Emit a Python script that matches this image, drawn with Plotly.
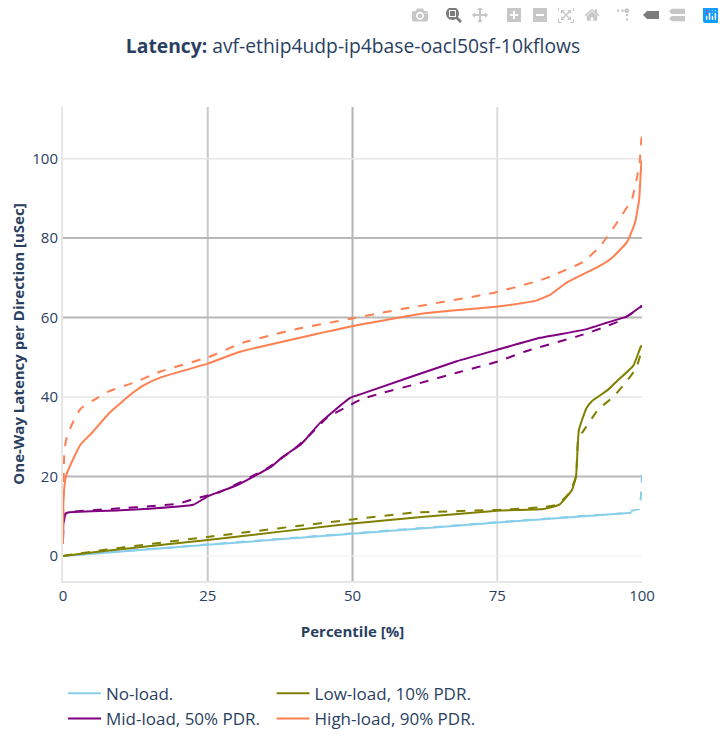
import plotly.graph_objects as go

no_x = [0, 25, 50, 75, 90, 98.2]
no_y = [0, 2.8, 5.6, 8.4, 10, 10.9]
no_dx = [2, 25, 50, 75, 90, 97, 97.8, 98.2, 99.5, 99.7, 100]
no_dy = [0.22, 2.9, 5.7, 8.5, 10.1, 10.8, 11.3, 11.4, 11.8, 13, 20.5]

low_x = [0, 5, 10, 25, 50, 75, 83, 85.8, 87.9, 88.6, 89.1, 90.4, 91.3, 94.1, 95.6, 98.5, 99.8, 100]
low_y = [0, 0.9, 1.7, 4.0, 8.2, 11.4, 11.8, 13, 16.6, 20, 31.7, 37.2, 38.9, 41.8, 43.9, 47.9, 52.7, 53]
low_dx = [0, 5, 10, 25, 50, 60.5, 75, 83, 85.5, 87.5, 88.6, 89.0, 89.8, 92.4, 95, 97.1, 99, 100]
low_dy = [0, 1.1, 2.1, 4.8, 9.2, 10.9, 11.6, 12.3, 13, 16, 20, 29.8, 31.3, 36.8, 40, 43.5, 47.3, 52]

mid_x = [0, 0.05, 0.3, 1, 10, 15, 22.5, 25, 30, 32.9, 36, 38, 41, 41.8, 44.4, 49.6, 52.2, 68, 75, 82.4, 89.9, 93.9, 97.4, 99.8, 100]
mid_y = [4, 8, 10.5, 11, 11.5, 11.9, 12.9, 15, 17.8, 20, 22.5, 25, 28, 29.2, 33.5, 39.8, 41.1, 49, 51.9, 54.9, 56.9, 58.7, 60.3, 62.8, 63]
mid_dx = [0, 0.1, 0.4, 1, 10, 15, 20, 22.8, 27.1, 35.4, 40, 43, 45.6, 49, 51.3, 55, 61.1, 68, 75, 80.1, 89.8, 93.1, 96.2, 99.7, 100]
mid_dy = [4, 8, 10.4, 11, 12, 12.5, 13.2, 14.4, 16.1, 22.2, 27, 31, 34.8, 37.5, 39.3, 41, 43.3, 46.1, 48.9, 51.6, 55.7, 57.4, 59.2, 62.5, 63]

high_x = [0, 0.1, 0.5, 1, 3, 5, 8, 12, 14, 17, 25, 30.6, 50.1, 62.2, 75.1, 81.5, 84.1, 87, 92.7, 94.8, 97.4, 98.8, 99.5, 99.9, 100]
high_y = [3, 15, 20, 22, 28, 31, 36, 41, 43, 45, 48.4, 51.4, 57.9, 61, 62.8, 64.2, 65.7, 68.8, 73, 75, 79, 83.9, 89.7, 99, 99.5]
high_dx = [0, 0.2, 0.5, 1.5, 3, 5, 8, 12, 17, 25, 31.1, 40, 49.6, 58.7, 74.3, 81.5, 83.6, 89.8, 92.7, 96.2, 98.3, 99.1, 99.6, 99.9, 100]
high_dy = [5, 25, 29, 33, 37, 39, 41.5, 43.5, 46.5, 50, 53.7, 57, 59.7, 62.2, 66.2, 69, 70, 74, 77.8, 85, 90, 95, 99, 105, 105.5]

names = ["No-load.", "Low-load, 10% PDR.", "Mid-load, 50% PDR.", "High-load, 90% PDR."]
colors = ["#87CEEB", "#808000", "#800080", "#FF7F50"]
solid = [(no_x, no_y), (low_x, low_y), (mid_x, mid_y), (high_x, high_y)]
dashed = [(no_dx, no_dy), (low_dx, low_dy), (mid_dx, mid_dy), (high_dx, high_dy)]

x_ticks = [0, 25, 50, 75, 100]
y_ticks = [0, 20, 40, 60, 80, 100]
x_grid = [(25, "#c8c8c8"), (50, "#b4b4b4"), (75, "#dcdcdc")]
y_grid = [(100, "#e6e6e6", 1.5), (80, "#b8b8b8", 2), (60, "#b8b8b8", 2), (40, "#e6e6e6", 1.5), (20, "#b8b8b8", 2), (0, "#f0f0f0", 1)]

fig = go.Figure()
for (sx, sy), (dx, dy), n, c in zip(solid, dashed, names, colors):
    fig.add_trace(go.Scatter(x=dx, y=dy, mode="lines", showlegend=False, hoverinfo="skip",
                             line=dict(color=c, width=2, dash="dash", shape="spline", smoothing=0.4)))
    fig.add_trace(go.Scatter(x=sx, y=sy, mode="lines", name=n,
                             line=dict(color=c, width=2, shape="spline", smoothing=0.4)))

shapes = []
for v, c in x_grid:
    shapes.append(dict(type="line", layer="below", xref="x", yref="paper", x0=v, x1=v, y0=0, y1=1,
                       line=dict(color=c, width=2)))
for v, c, w in y_grid:
    shapes.append(dict(type="line", layer="below", xref="paper", yref="y", x0=0, x1=1, y0=v, y1=v,
                       line=dict(color=c, width=w)))

font = "Open Sans, sans-serif"
ink = "#2a3f5f"
fig.update_layout(
    width=718, height=760, autosize=False,
    margin=dict(l=55, r=84, t=99, b=187),
    paper_bgcolor="white", plot_bgcolor="white",
    font=dict(family=font, size=15, color=ink),
    title=dict(text="<b>Latency:</b> avf-ethip4udp-ip4base-oacl50sf-10kflows",
               font=dict(size=19.3, family=font, color=ink),
               x=0.4805, xanchor="center", y=0.95, yanchor="middle"),
    xaxis=dict(range=[0, 100], tickvals=x_ticks, showgrid=False, zeroline=False, automargin=False,
               showline=True, linecolor="#e6e6e6", linewidth=2, ticks="",
               title=dict(text="<b>Percentile [%]</b>", font=dict(size=15), standoff=22)),
    yaxis=dict(range=[-6.3, 113], tickvals=y_ticks, showgrid=False, zeroline=False, automargin=False,
               showline=True, linecolor="#e6e6e6", linewidth=2, ticks="",
               title=dict(text="<b>One-Way Latency per Direction [uSec]</b>", font=dict(size=15), standoff=10)),
    legend=dict(orientation="h", x=0, y=-0.2, xanchor="left", yanchor="top",
                font=dict(size=17), traceorder="normal", itemwidth=33),
    hovermode="closest",
    shapes=shapes,
)
page_tweaks = """
var st = document.createElement('style');
st.textContent = '.js-plotly-plot .plotly .modebar-btn{padding:3px 4.95px !important}'
  + '.js-plotly-plot .plotly .modebar{top:-4px !important}'
  + 'html,body{overflow:hidden}';
document.head.appendChild(st);
setTimeout(function () {
  document.querySelectorAll('.modebar a.modebar-btn[href] rect').forEach(function (r, i) {
    if (i === 0) { r.style.fill = '#119dff'; r.setAttribute('fill', '#119dff'); }
  });
}, 100);
"""
fig.write_html("out.html", post_script=page_tweaks, config=dict(
    displayModeBar=True,
    modeBarButtonsToAdd=["toggleSpikelines", "v1hovermode"],
))
